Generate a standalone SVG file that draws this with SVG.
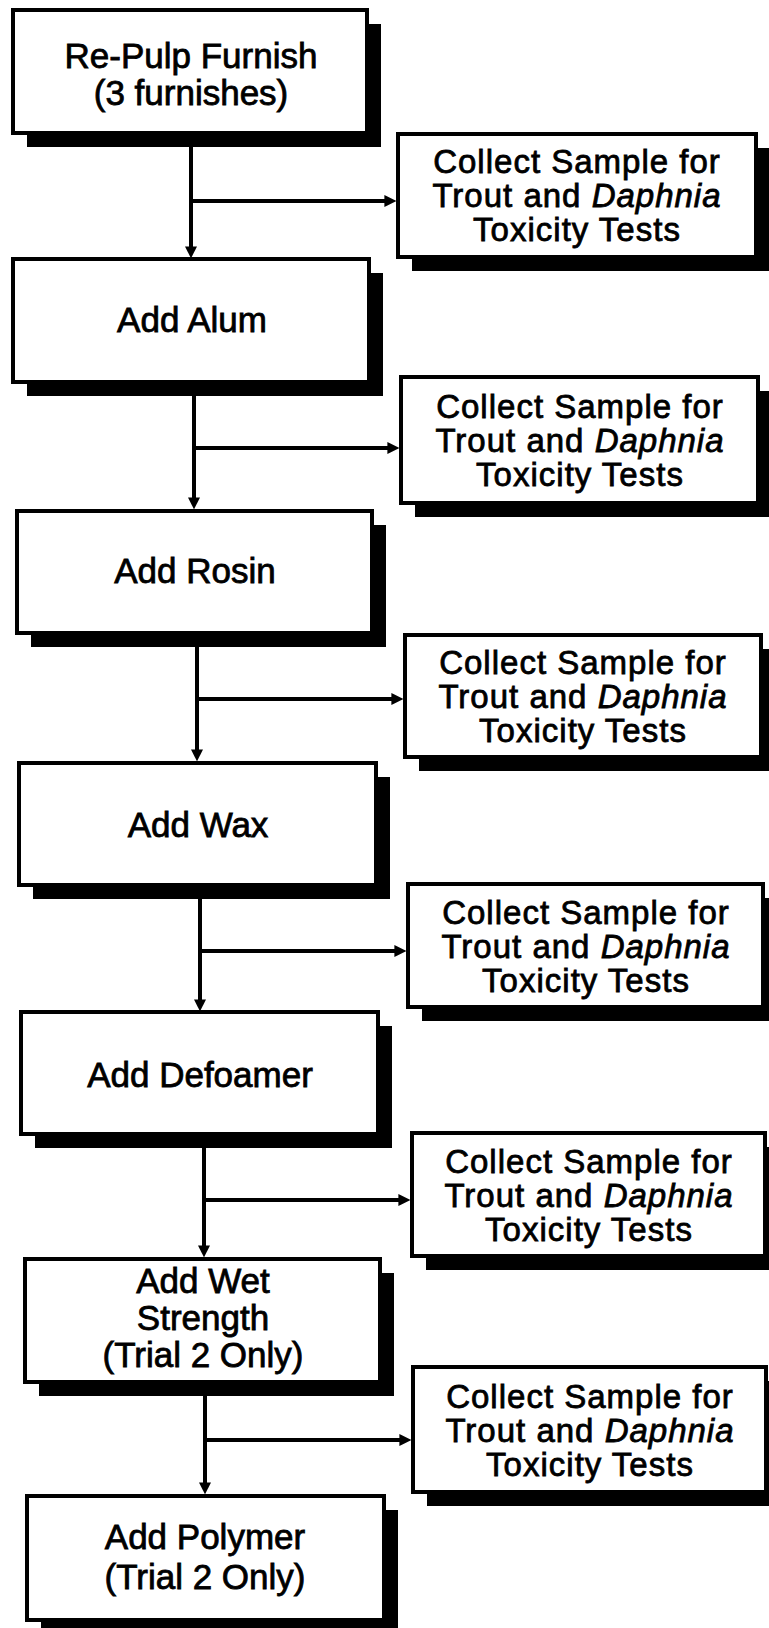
<svg xmlns="http://www.w3.org/2000/svg" width="769" height="1628" viewBox="0 0 769 1628">
<style>
.bg{fill:#fff}
.shadow{fill:#000}
.box{fill:#fff;stroke:#000;stroke-width:4}
.t{font-family:"Liberation Sans",Arial,Helvetica,sans-serif;font-size:35px;text-anchor:middle;fill:#000;stroke:#000;stroke-width:0.8px}
.s{font-size:33px;letter-spacing:1px}
.i{font-style:italic}
.c{stroke:#000;stroke-width:4;fill:none;marker-end:url(#ah)}
</style>
<defs>
<marker id="ah" viewBox="0 0 10 10" refX="3" refY="5" markerWidth="12" markerHeight="12" markerUnits="userSpaceOnUse" orient="auto">
<path d="M0,0 L10,5 L0,10 z" fill="#000"/>
</marker>
</defs>
<rect class="bg" x="0" y="0" width="769" height="1628"/>

<g id="connectors">
<path class="c" d="M191,135 L191,250"/>
<path class="c" d="M191,201 L388,201"/>
<path class="c" d="M194,384 L194,501"/>
<path class="c" d="M194,448 L391,448"/>
<path class="c" d="M197,635 L197,753"/>
<path class="c" d="M197,699 L395,699"/>
<path class="c" d="M200,887 L200,1003"/>
<path class="c" d="M200,951 L398,951"/>
<path class="c" d="M204,1136 L204,1249"/>
<path class="c" d="M204,1200 L402,1200"/>
<path class="c" d="M205,1384 L205,1486"/>
<path class="c" d="M205,1440 L403,1440"/>
</g>

<g id="n1">
<rect class="shadow" x="27" y="24" width="354" height="123"/>
<rect class="box" x="13" y="10" width="354" height="123"/>
<text class="t" x="191" y="68">Re-Pulp Furnish<tspan x="191" dy="37">(3 furnishes)</tspan></text>
</g>
<g id="s1">
<rect class="shadow" x="412" y="148" width="358" height="123"/>
<rect class="box" x="398" y="134" width="358" height="123"/>
<text class="t s" x="577" y="173">Collect Sample for<tspan x="577" dy="34">Trout and </tspan><tspan class="i">Daphnia</tspan><tspan x="577" dy="34">Toxicity Tests</tspan></text>
</g>

<g id="n2">
<rect class="shadow" x="27" y="273" width="356" height="123"/>
<rect class="box" x="13" y="259" width="356" height="123"/>
<text class="t" x="192" y="332">Add Alum</text>
</g>
<g id="s2">
<rect class="shadow" x="415" y="391" width="357" height="126"/>
<rect class="box" x="401" y="377" width="357" height="126"/>
<text class="t s" x="580" y="418">Collect Sample for<tspan x="580" dy="34">Trout and </tspan><tspan class="i">Daphnia</tspan><tspan x="580" dy="34">Toxicity Tests</tspan></text>
</g>

<g id="n3">
<rect class="shadow" x="31" y="525" width="355" height="122"/>
<rect class="box" x="17" y="511" width="355" height="122"/>
<text class="t" x="195" y="583">Add Rosin</text>
</g>
<g id="s3">
<rect class="shadow" x="419" y="649" width="356" height="122"/>
<rect class="box" x="405" y="635" width="356" height="122"/>
<text class="t s" x="583" y="674">Collect Sample for<tspan x="583" dy="34">Trout and </tspan><tspan class="i">Daphnia</tspan><tspan x="583" dy="34">Toxicity Tests</tspan></text>
</g>

<g id="n4">
<rect class="shadow" x="33" y="777" width="357" height="122"/>
<rect class="box" x="19" y="763" width="357" height="122"/>
<text class="t" x="198" y="837">Add Wax</text>
</g>
<g id="s4">
<rect class="shadow" x="422" y="898" width="355" height="123"/>
<rect class="box" x="408" y="884" width="355" height="123"/>
<text class="t s" x="586" y="924">Collect Sample for<tspan x="586" dy="34">Trout and </tspan><tspan class="i">Daphnia</tspan><tspan x="586" dy="34">Toxicity Tests</tspan></text>
</g>

<g id="n5">
<rect class="shadow" x="35" y="1026" width="357" height="122"/>
<rect class="box" x="21" y="1012" width="357" height="122"/>
<text class="t" x="200" y="1087">Add Defoamer</text>
</g>
<g id="s5">
<rect class="shadow" x="426" y="1147" width="353" height="123"/>
<rect class="box" x="412" y="1133" width="353" height="123"/>
<text class="t s" x="589" y="1173">Collect Sample for<tspan x="589" dy="34">Trout and </tspan><tspan class="i">Daphnia</tspan><tspan x="589" dy="34">Toxicity Tests</tspan></text>
</g>

<g id="n6">
<rect class="shadow" x="39" y="1273" width="355" height="123"/>
<rect class="box" x="25" y="1259" width="355" height="123"/>
<text class="t" x="203" y="1293">Add Wet<tspan x="203" dy="37">Strength</tspan><tspan x="203" dy="37">(Trial 2 Only)</tspan></text>
</g>
<g id="s6">
<rect class="shadow" x="427" y="1381" width="353" height="125"/>
<rect class="box" x="413" y="1367" width="353" height="125"/>
<text class="t s" x="590" y="1408">Collect Sample for<tspan x="590" dy="34">Trout and </tspan><tspan class="i">Daphnia</tspan><tspan x="590" dy="34">Toxicity Tests</tspan></text>
</g>

<g id="n7">
<rect class="shadow" x="41" y="1510" width="357" height="124"/>
<rect class="box" x="27" y="1496" width="357" height="124"/>
<text class="t" x="205" y="1549">Add Polymer<tspan x="205" dy="40">(Trial 2 Only)</tspan></text>
</g>
</svg>
